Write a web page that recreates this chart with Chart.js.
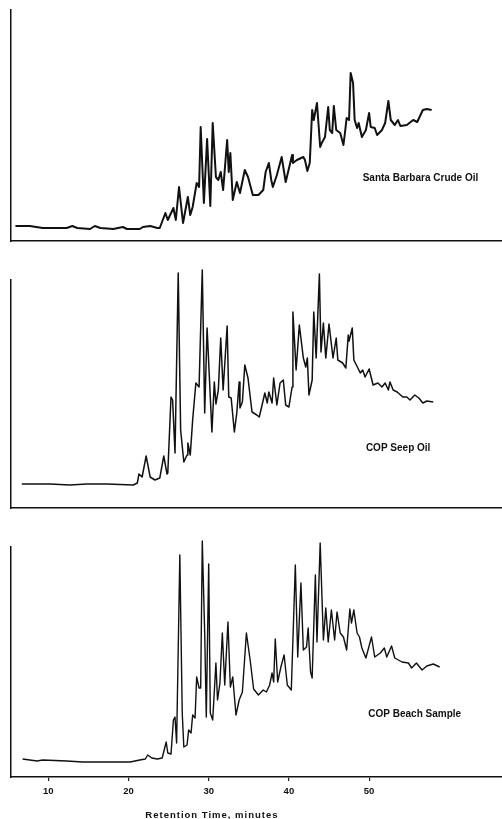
<!DOCTYPE html>
<html>
<head>
<meta charset="utf-8">
<script src="https://cdn.jsdelivr.net/npm/chart.js@4"></script>
<style>
  html, body { margin: 0; padding: 0; background: #fff; }
  #wrap { position: relative; width: 502px; height: 819px; overflow: hidden; }
  #wrap canvas { position: absolute; left: 0; }
</style>
</head>
<body>
<div id="wrap">
  <canvas id="crude" width="502" height="250" style="top:0px"></canvas>
  <canvas id="seep" width="502" height="262" style="top:255px"></canvas>
  <canvas id="beach" width="502" height="294" style="top:525px"></canvas>
</div>
<script>
// Retention time axis (minutes)
const timeMin = 5.35;
const timeMax = 66.57;
const timeTicks = [10, 20, 30, 40, 50];
const axisTitle = 'Retention Time, minutes';

// Santa Barbara crude oil: retention time (min) and detector response
const crudeTime = [5.9,7.7,9.3,12.3,13.0,13.6,15.2,15.8,16.5,18.1,19.3,19.8,21.4,21.8,22.7,23.6,23.9,24.6,24.9,25.6,25.9,26.3,26.8,27.4,27.7,28.0,28.5,28.8,29.0,29.4,29.8,30.2,30.5,30.9,31.2,31.5,31.8,32.3,32.5,32.7,33.0,33.5,33.9,34.5,34.9,35.5,36.2,36.8,37.1,37.5,37.8,38.0,38.5,39.1,39.6,40.4,40.5,41.0,41.8,42.0,42.3,42.6,42.9,43.1,43.5,43.9,44.1,44.5,44.9,45.1,45.4,45.6,45.9,46.4,46.8,47.0,47.2,47.5,47.7,48.0,48.2,48.5,48.7,49.1,49.6,50.0,50.2,50.7,51.0,51.6,52.0,52.4,52.7,53.2,53.6,53.9,54.7,55.5,56.0,56.7,57.2,57.8];
const crudeResp = [15,15,13,13,15,13,12,15,13,12,14,12,12,14,15,13,13,28,21,33,21,54,18,44,26,34,58,54,114,38,102,35,118,64,61,69,51,101,69,88,41,59,48,71,64,46,46,51,69,78,61,54,66,84,59,86,78,81,84,81,70,78,131,121,138,94,98,104,134,111,108,135,111,108,96,109,123,121,168,158,121,113,118,104,111,128,114,113,106,111,118,140,121,116,121,115,116,121,119,131,132,131];

// COP seep oil
const seepTime = [6.7,10.2,12.7,14.8,17.3,20.6,21.1,21.3,21.7,22.2,22.7,23.3,23.9,24.4,24.8,24.9,25.3,25.5,25.8,26.2,26.5,26.9,27.3,27.4,27.7,28.0,28.4,28.8,29.2,29.5,29.8,30.4,30.7,30.9,31.2,31.5,31.8,32.3,32.5,32.8,33.2,33.5,33.8,33.9,34.2,34.5,34.9,35.4,36.0,36.3,36.6,37.0,37.3,37.5,37.9,38.1,38.5,38.9,39.3,39.6,40.0,40.4,40.5,40.9,41.3,41.8,42.1,42.3,42.5,42.9,43.1,43.4,43.8,44.0,44.3,44.6,45.0,45.5,45.9,46.1,46.7,47.1,47.4,47.5,47.9,48.1,48.6,48.9,49.2,49.5,50.0,50.5,51.1,51.6,52.0,52.4,52.6,53.0,53.5,54.2,54.7,55.1,55.7,56.2,56.7,57.2,58.0];
const seepResp = [24,24,23,24,24,23,25,34,31,52,31,28,30,52,34,35,111,108,55,235,78,46,53,65,53,88,125,121,238,95,180,76,126,104,118,170,118,182,111,110,76,95,126,100,106,143,130,96,93,91,101,115,105,116,105,130,103,125,128,103,101,121,196,138,183,150,141,150,113,128,196,150,234,156,185,150,184,150,170,148,145,140,173,167,180,148,140,135,138,131,139,123,125,121,125,118,126,118,116,111,111,108,113,110,105,107,106];

// COP beach sample
const beachTime = [6.8,8.6,9.3,12.3,14.3,17.3,20.2,21.4,22.1,22.4,22.9,23.6,24.2,24.7,24.9,25.3,25.6,25.8,26.0,26.4,26.7,26.9,27.3,27.5,27.8,28.0,28.3,28.5,28.8,29.0,29.2,29.5,29.7,30.0,30.2,30.5,30.9,31.1,31.4,31.7,32.0,32.4,32.7,33.0,33.4,33.8,34.2,34.7,35.2,35.6,36.2,36.8,37.2,37.6,37.9,38.1,38.3,38.6,39.0,39.4,39.8,40.3,40.8,41.1,41.5,41.8,42.2,42.4,42.7,42.9,43.3,43.5,43.9,44.3,44.6,44.9,45.3,45.7,46.0,46.4,46.8,47.2,47.6,47.8,48.1,48.5,48.8,49.1,49.6,50.3,50.7,51.4,51.9,52.2,52.8,53.2,54.1,54.9,55.3,55.9,56.6,57.2,58.0,58.8];
const beachResp = [18,16,17,16,15,15,15,17,18,22,19,18,19,35,24,23,57,60,34,222,64,30,32,47,44,62,59,100,89,89,236,144,60,213,64,57,114,77,94,144,92,155,90,100,62,77,85,144,115,88,82,87,85,92,104,95,138,95,110,122,92,87,212,120,194,127,130,149,105,99,202,135,234,137,169,135,167,137,165,144,140,127,168,154,167,144,140,129,119,140,120,124,129,120,131,119,115,114,109,114,107,111,113,110];

const sampleNames = ['Santa Barbara Crude Oil', 'COP Seep Oil', 'COP Beach Sample'];

const FONT = '"Liberation Sans", Arial, Helvetica, sans-serif';

// Sample name placed inside each panel, anchored in data coordinates;
// the bottom panel also carries the time-axis title.
const nameLabel = {
  id: 'nameLabel',
  afterDraw(chart) {
    const o = chart.options.plugins.nameLabel;
    if (!o) return;
    const { ctx, scales } = chart;
    ctx.save();
    ctx.fillStyle = '#111';
    ctx.font = 'bold 10px ' + FONT;
    ctx.textAlign = 'left';
    ctx.textBaseline = 'middle';
    ctx.fillText(o.text, scales.x.getPixelForValue(o.t), scales.y.getPixelForValue(o.v));
    if (o.title) {
      ctx.font = 'bold 9.5px ' + FONT;
      if ('letterSpacing' in ctx) ctx.letterSpacing = '1px';
      ctx.textAlign = 'center';
      ctx.textBaseline = 'alphabetic';
      ctx.fillText(o.title, scales.x.getPixelForValue(o.titleT), scales.x.bottom - 1);
    }
    ctx.restore();
  }
};

function panel(id, time, resp, cfg) {
  const points = time.map((t, i) => ({ x: t, y: resp[i] }));
  return new Chart(document.getElementById(id), {
    type: 'line',
    data: {
      datasets: [{
        data: points,
        borderColor: '#111',
        borderWidth: cfg.lineWidth,
        borderJoinStyle: 'round',
        pointRadius: 0,
        tension: 0,
        fill: false,
        clip: false
      }]
    },
    options: {
      responsive: false,
      animation: false,
      events: [],
      layout: { padding: { top: cfg.padTop, left: 0, right: 0, bottom: 0 } },
      plugins: {
        legend: { display: false },
        tooltip: { enabled: false },
        nameLabel: cfg.label
      },
      scales: {
        x: {
          type: 'linear',
          min: timeMin,
          max: timeMax,
          grid: {
            display: cfg.ticks,
            drawOnChartArea: false,
            drawTicks: true,
            tickLength: 4,
            color: '#222',
            lineWidth: 1.2
          },
          border: { display: true, color: '#111', width: 1.5 },
          ticks: {
            display: cfg.ticks,
            padding: 5,
            color: '#111',
            font: { family: FONT, size: 9.5, weight: 'bold' },
            maxRotation: 0
          },
          afterBuildTicks(scale) { scale.ticks = timeTicks.map(v => ({ value: v })); },
          afterFit(scale) { scale.height = cfg.xHeight; }
        },
        y: {
          min: 0,
          max: cfg.yMax,
          grid: { display: false },
          ticks: { display: false },
          border: { display: true, color: '#111', width: 1.5 },
          afterFit(scale) { scale.width = 11; }
        }
      }
    },
    plugins: [nameLabel]
  });
}

panel('crude', crudeTime, crudeResp, {
  lineWidth: 2, padTop: 10, xHeight: 9, yMax: 231, ticks: false,
  label: { text: sampleNames[0], t: 49.2, v: 63 }
});
panel('seep', seepTime, seepResp, {
  lineWidth: 1.5, padTop: 25, xHeight: 9, yMax: 228, ticks: false,
  label: { text: sampleNames[1], t: 49.6, v: 60 }
});
panel('beach', beachTime, beachResp, {
  lineWidth: 1.4, padTop: 22, xHeight: 42, yMax: 230, ticks: true,
  label: { text: sampleNames[2], t: 49.9, v: 63, title: axisTitle, titleT: 30.4 }
});
</script>
</body>
</html>
